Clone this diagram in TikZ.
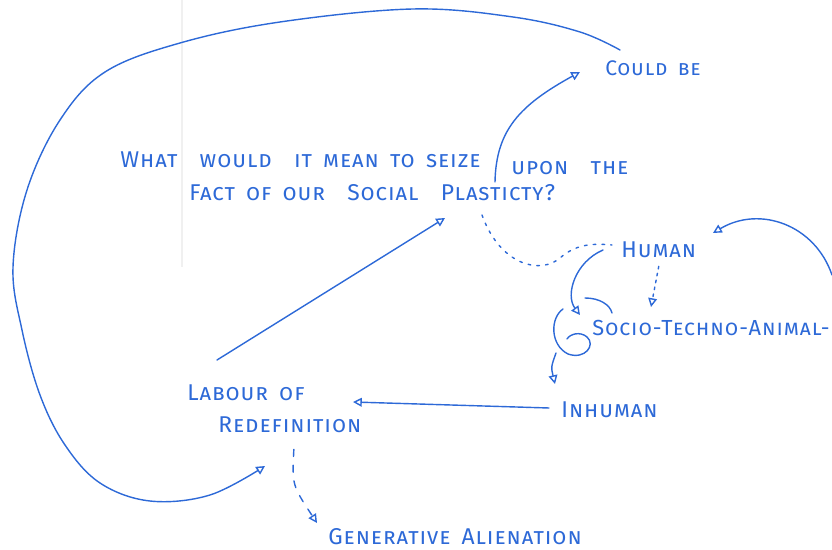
\documentclass[tikz,border=0pt]{standalone}
\usepackage{fontspec}
\newfontfamily\hand{Fira Sans}[Letters=SmallCaps, LetterSpace=4, WordSpace=1.6]
\usetikzlibrary{arrows.meta}
\definecolor{ink}{RGB}{45,105,215}

\begin{document}
\begin{tikzpicture}[x=0.02cm, y=-0.02cm]

\tikzset{word/.style = {anchor=west, inner sep=0pt, text=ink, font=\hand\fontsize{13}{15}\selectfont}}
\tikzset{edge/.style = {draw=ink, line width=0.8pt, line cap=round}}
\tikzset{arr/.style = {edge, -{Triangle[open, length=5pt, width=5pt]}}}
\useasboundingbox (0,0) rectangle (832,550);
\draw[black!6, line width=0.6pt] (182,0) -- (182,267);
%words
\node[word] (q1) at (120,160) {What \ would \ it mean to seize};
\node[word] (q2) at (511,168) {upon \ the};
\node[word] (q3) at (189,193) {Fact of our \ Social \ Plasticty?};
\node[word, font=\hand\fontsize{12}{15}\selectfont] (could) at (605,68) {Could be};
\node[word] (human) at (621,250) {Human};
\node[word, font=\hand\fontsize{12.4}{15}\selectfont] (socio) at (592,328) {Socio-Techno-Animal-};
\node[word] (inhuman) at (561,410) {Inhuman};
\node[word] (labour) at (187,393) {Labour of};
\node[word] (redef) at (218,425) {Redefinition};
\node[word] (gen) at (328,537) {Generative Alienation};
%free ends
\coordinate (seize) at (495,182);
\coordinate (couldtip) at (580,72);
\coordinate (loopstart) at (620,50);
\coordinate (redeftip) at (265,466);
\coordinate (labourtop) at (217,360);
\coordinate (plasttip) at (445,218);
\coordinate (qtail) at (482,215);
\coordinate (humantail) at (612,245);
\coordinate (sociotip) at (580,315);
\coordinate (labourtip) at (353,402);
\coordinate (rightedge) at (832,275);
\coordinate (humantip) at (713,233);
%edges
\draw[arr] (seize) .. controls (496,130) and (520,105) .. (couldtip);
\draw[arr] plot[smooth, tension=0.6] coordinates {(loopstart) (580,32) (513,17) (413,9) (280,22)
  (180,43) (105,72) (60,120) (27,190) (13,267) (22,330) (40,395) (65,445) (100,483)
  (150,501) (210,495) (redeftip)};
\draw[arr] (labourtop) -- (plasttip);
\draw[edge, dash pattern=on 1.5pt off 3.5pt] (qtail) .. controls (500,265) and (540,275) .. (560,258)
  .. controls (575,245) and (590,243) .. (humantail);
\draw[arr, dash pattern=on 1.5pt off 2.5pt] (human.south) ++(0,8) -- (651,307);
\draw[arr] (603,250) .. controls (575,262) and (565,295) .. (sociotip);
\draw[edge] (585,298) .. controls (600,298) and (610,305) .. (612,313);
\draw[edge] (563,309) .. controls (550,318) and (550,345) .. (568,354)
  .. controls (585,360) and (596,345) .. (587,337)
  .. controls (580,331) and (570,334) .. (567,339);
\draw[arr] (556,353) .. controls (551,367) .. (555,384);
\draw[arr] (inhuman.west) ++(-12,-2) -- (labourtip);
\draw[arr] (rightedge) .. controls (815,225) and (760,205) .. (humantip);
\draw[arr, dash pattern=on 4pt off 5pt] (redef.south) ++(4,16) .. controls (292,485) .. (317,523);

\end{tikzpicture}
\end{document}
